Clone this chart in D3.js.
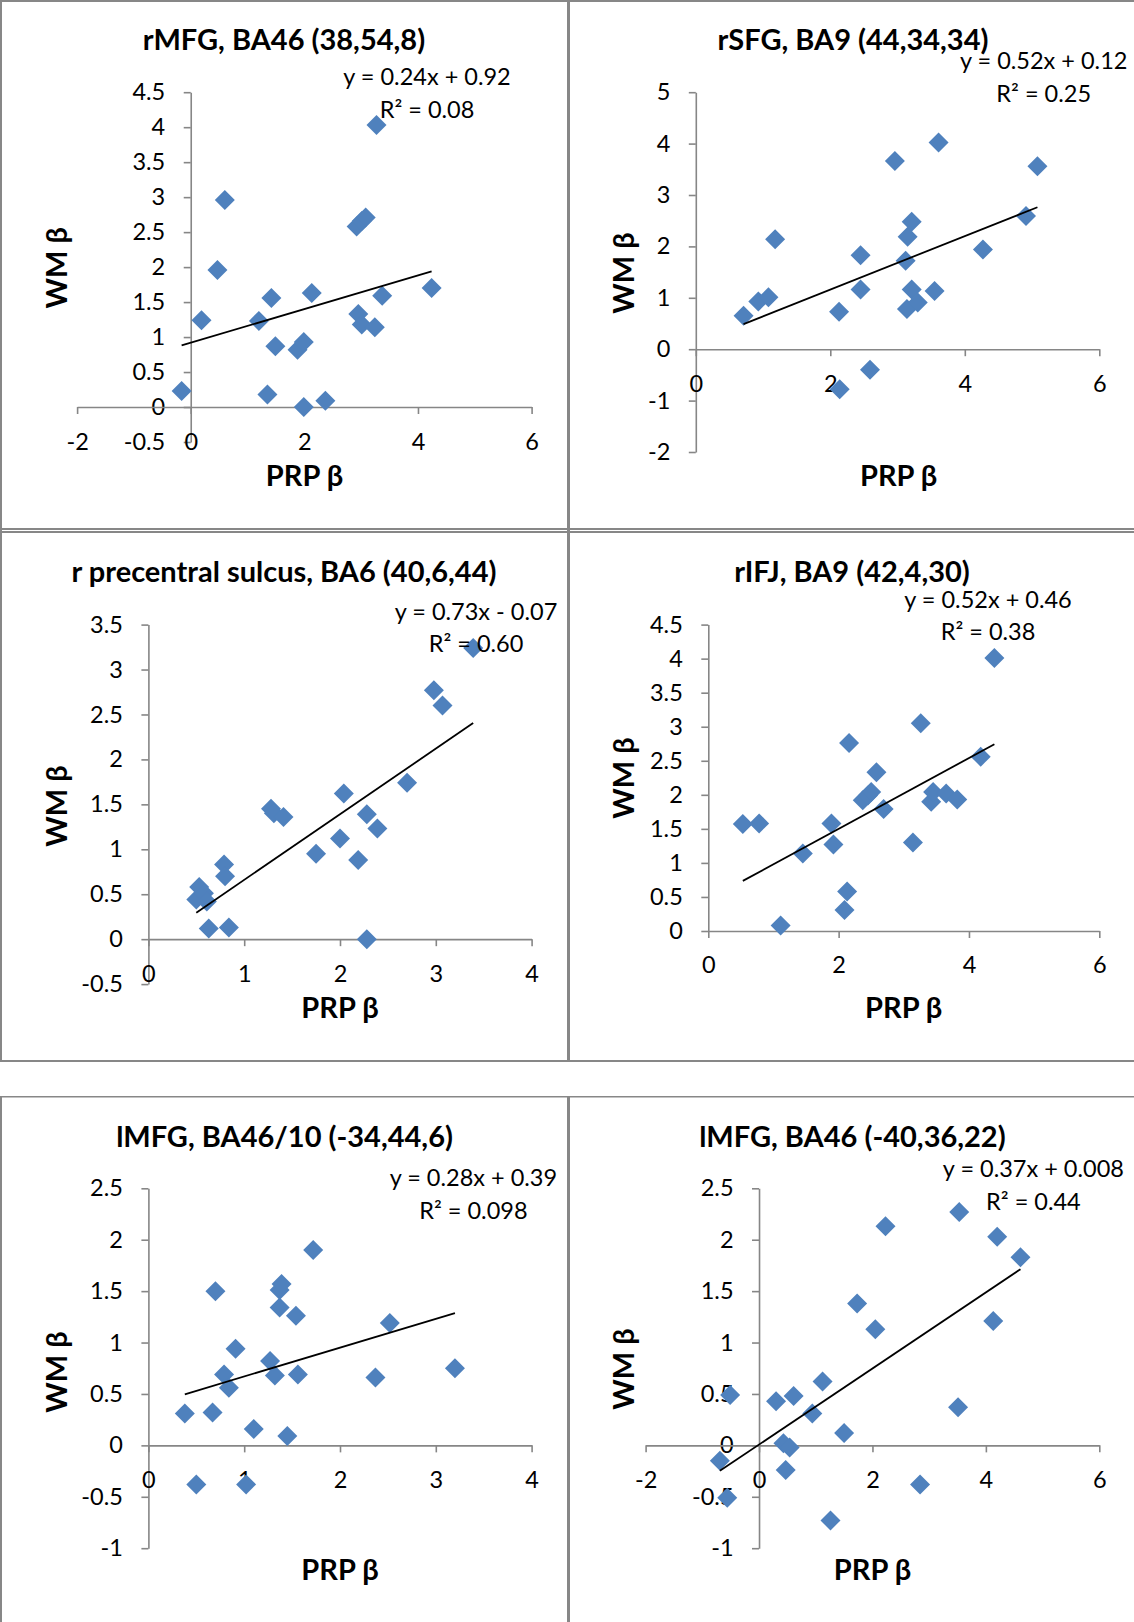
<!DOCTYPE html>
<html><head><meta charset="utf-8">
<script src="https://cdn.jsdelivr.net/npm/d3@7"></script>
<style>
body{margin:0;background:#fff}
svg{display:block}
text{font-family:Lato,'Open Sans',sans-serif;fill:#000}
</style>
</head><body>
<svg id="c" width="1134" height="1622"></svg>
<script>
// ---------- data ----------
const titles = ["rMFG, BA46 (38,54,8)", "rSFG, BA9 (44,34,34)", "r precentral sulcus, BA6 (40,6,44)",
                "rIFJ, BA9 (42,4,30)", "lMFG, BA46/10 (-34,44,6)", "lMFG, BA46 (-40,36,22)"];
const eqLabels = ["y = 0.24x + 0.92", "y = 0.52x + 0.12", "y = 0.73x - 0.07",
                  "y = 0.52x + 0.46", "y = 0.28x + 0.39", "y = 0.37x + 0.008"];
const r2Labels = ["R\u00B2 = 0.08", "R\u00B2 = 0.25", "R\u00B2 = 0.60", "R\u00B2 = 0.38", "R\u00B2 = 0.098", "R\u00B2 = 0.44"];
const slopes = [0.24, 0.52, 0.73, 0.52, 0.28, 0.37];
const intercepts = [0.92, 0.12, -0.07, 0.46, 0.39, 0.008];
const xAxisTitle = "PRP \u03B2";
const yAxisTitle = "WM \u03B2";

const p1X = [-0.16, 0.19, 0.47, 0.60, 1.20, 1.35, 1.42, 1.49, 1.88, 1.99, 1.99, 2.13, 2.37, 2.92, 3.01, 3.08, 2.95, 3.01, 3.24, 3.27, 3.37, 4.24];
const p1Y = [0.23, 1.24, 1.96, 2.96, 1.23, 0.18, 1.56, 0.87, 0.82, 0.93, 0.00, 1.63, 0.09, 2.58, 2.66, 2.71, 1.33, 1.18, 1.14, 4.03, 1.59, 1.70];

const p2X = [0.71, 0.93, 1.08, 1.18, 2.13, 2.14, 2.45, 2.45, 2.59, 2.96, 3.12, 3.14, 3.15, 3.21, 3.21, 3.30, 3.55, 3.61, 4.27, 4.91, 5.08];
const p2Y = [0.65, 0.93, 1.01, 2.14, 0.73, -0.78, 1.83, 1.16, -0.40, 3.66, 1.72, 0.78, 2.19, 2.48, 1.16, 0.91, 1.13, 4.02, 1.94, 2.59, 3.56];

const p3X = [0.50, 0.53, 0.58, 0.61, 0.63, 0.79, 0.80, 0.84, 1.28, 1.31, 1.41, 1.75, 2.00, 2.04, 2.19, 2.28, 2.28, 2.39, 2.70, 2.98, 3.07, 3.39];
const p3Y = [0.44, 0.58, 0.51, 0.42, 0.12, 0.83, 0.70, 0.13, 1.45, 1.40, 1.36, 0.95, 1.12, 1.62, 0.88, 1.39, 0.00, 1.23, 1.74, 2.77, 2.60, 3.24];

const p4X = [0.53, 0.78, 1.11, 1.45, 1.89, 1.92, 2.09, 2.13, 2.16, 2.37, 2.45, 2.50, 2.58, 2.69, 3.14, 3.26, 3.42, 3.45, 3.65, 3.82, 4.18, 4.39];
const p4Y = [1.57, 1.58, 0.08, 1.14, 1.58, 1.27, 0.31, 0.58, 2.76, 1.92, 1.99, 2.04, 2.33, 1.79, 1.30, 3.05, 1.90, 2.04, 2.02, 1.93, 2.56, 4.01];

const p5X = [0.38, 0.50, 0.67, 0.70, 0.79, 0.84, 0.91, 1.02, 1.10, 1.27, 1.32, 1.37, 1.37, 1.39, 1.45, 1.54, 1.56, 1.72, 2.37, 2.52, 3.20];
const p5Y = [0.31, -0.38, 0.32, 1.50, 0.69, 0.56, 0.94, -0.38, 0.16, 0.82, 0.68, 1.34, 1.51, 1.57, 0.09, 1.26, 0.69, 1.90, 0.66, 1.19, 0.75];

const p6X = [-0.69, -0.56, -0.51, 0.30, 0.43, 0.47, 0.54, 0.61, 0.94, 1.12, 1.26, 1.50, 1.73, 2.05, 2.23, 2.84, 3.51, 3.53, 4.13, 4.20, 4.61];
const p6Y = [-0.15, -0.51, 0.49, 0.43, 0.02, -0.24, -0.02, 0.48, 0.31, 0.62, -0.73, 0.12, 1.38, 1.13, 2.13, -0.38, 0.37, 2.27, 1.21, 2.03, 1.83];

const xTicks1 = [-2, 0, 2, 4, 6];
const yTicks1 = [-0.5, 0, 0.5, 1, 1.5, 2, 2.5, 3, 3.5, 4, 4.5];
const xTicks2 = [0, 2, 4, 6];
const yTicks2 = [-2, -1, 0, 1, 2, 3, 4, 5];
const xTicks3 = [0, 1, 2, 3, 4];
const yTicks3 = [-0.5, 0, 0.5, 1, 1.5, 2, 2.5, 3, 3.5];
const xTicks4 = [0, 2, 4, 6];
const yTicks4 = [0, 0.5, 1, 1.5, 2, 2.5, 3, 3.5, 4, 4.5];
const xTicks5 = [0, 1, 2, 3, 4];
const yTicks5 = [-1, -0.5, 0, 0.5, 1, 1.5, 2, 2.5];
const xTicks6 = [-2, 0, 2, 4, 6];
const yTicks6 = [-1, -0.5, 0, 0.5, 1, 1.5, 2, 2.5];

const seriesX = [p1X, p2X, p3X, p4X, p5X, p6X];
const seriesY = [p1Y, p2Y, p3Y, p4Y, p5Y, p6Y];
const xTicksAll = [xTicks1, xTicks2, xTicks3, xTicks4, xTicks5, xTicks6];
const yTicksAll = [yTicks1, yTicks2, yTicks3, yTicks4, yTicks5, yTicks6];

// ---------- layout (pixel geometry) ----------
const layout = [
  {xr:[77.1, 531.6],  yr:[442.0, 92.2],   title:[284, 50],    eq:[427, 84.5, 117.6],   yt:[67, 267.7],   xt:[304.5, 486]},
  {xr:[695.8, 1099.3],yr:[452.0, 92.2],   title:[853, 50],    eq:[1043.7, 69.3, 102],  yt:[634, 273],     xt:[898.6, 486]},
  {xr:[148.4, 531.6], yr:[984.1, 624.6],  title:[284, 582.4], eq:[476, 619.5, 652.3],  yt:[67, 806],      xt:[340, 1018]},
  {xr:[708.3, 1099.3],yr:[931.0, 624.6],  title:[852, 582.4], eq:[988, 607.7, 639.8],  yt:[634, 778],     xt:[903.7, 1018]},
  {xr:[148.4, 531.6], yr:[1548.2, 1188.3],title:[284.6,1146.7],eq:[473.4, 1186, 1218.8],yt:[67, 1372],    xt:[340, 1579.7]},
  {xr:[645.6, 1099.3],yr:[1548.2, 1188.3],title:[852.5,1146.7],eq:[1033.4,1176.5,1209.8],yt:[634, 1369],  xt:[872.5, 1579.7]}
];

const svg = d3.select("#c");
const GRAY = "#878787";
const AXIS = "#868686";
const BLUE = "#4F81BD";
const TICK_FS = 23.5, EQ_FS = 23.5, TITLE_FS = 29;

// panel borders
const borders = svg.append("g").attr("fill", GRAY);
[[0,0,1134,2],[0,0,2,1062],[0,1096,2,526],[567,0,3,1062],[567,1096,3,526],
 [0,528,1134,2],[0,531,1134,2],[0,1060,1134,2],[0,1096,1134,1.5]].forEach(b=>{
  borders.append("rect").attr("x",b[0]).attr("y",b[1]).attr("width",b[2]).attr("height",b[3]);
});

const diamond = "M0,-10L10,0L0,10L-10,0Z";

layout.forEach((L, i) => {
  const xt = xTicksAll[i], yt = yTicksAll[i];
  const x = d3.scaleLinear().domain([xt[0], xt[xt.length-1]]).range(L.xr);
  const y = d3.scaleLinear().domain([yt[0], yt[yt.length-1]]).range(L.yr);
  const g = svg.append("g");

  // y axis at x=0
  const yAx = g.append("g").attr("transform", `translate(${x(0)},0)`)
    .call(d3.axisLeft(y).tickValues(yt).tickSize(7).tickSizeOuter(0).tickPadding(18.5).tickFormat(d => String(d)));
  // x axis at y=0
  const xAx = g.append("g").attr("transform", `translate(0,${y(0)})`)
    .call(d3.axisBottom(x).tickValues(xt).tickSize(7).tickSizeOuter(0).tickPadding(18.8).tickFormat(d => String(d)));
  [yAx, xAx].forEach(a => {
    a.attr("font-family", null).attr("font-size", null);
    a.select(".domain").attr("stroke", AXIS).attr("stroke-width", 1.6);
    a.selectAll(".tick line").attr("stroke", AXIS).attr("stroke-width", 1.6);
    a.selectAll(".tick text").style("font-size", TICK_FS + "px").attr("fill", "#000");
  });
  xAx.selectAll(".tick text").attr("dy", "0.71em");

  // points
  const xs = seriesX[i], ys = seriesY[i];
  g.append("g").selectAll("path").data(xs.map((v, k) => [v, ys[k]])).join("path")
    .attr("d", diamond).attr("fill", BLUE)
    .attr("transform", d => `translate(${x(d[0])},${y(d[1])})`);

  // trendline
  const x0 = d3.min(xs), x1 = d3.max(xs);
  g.append("line")
    .attr("x1", x(x0)).attr("y1", y(slopes[i]*x0 + intercepts[i]))
    .attr("x2", x(x1)).attr("y2", y(slopes[i]*x1 + intercepts[i]))
    .attr("stroke", "#000").attr("stroke-width", 1.8);

  // texts
  g.append("text").attr("x", L.title[0]).attr("y", L.title[1]).attr("text-anchor", "middle")
    .style("font-size", TITLE_FS + "px").style("font-weight", "bold").text(titles[i]);
  g.append("text").attr("x", L.eq[0]).attr("y", L.eq[1]).attr("text-anchor", "middle")
    .style("font-size", EQ_FS + "px").text(eqLabels[i]);
  g.append("text").attr("x", L.eq[0]).attr("y", L.eq[2]).attr("text-anchor", "middle")
    .style("font-size", EQ_FS + "px").text(r2Labels[i]);
  g.append("text").attr("transform", `translate(${L.yt[0]},${L.yt[1]}) rotate(-90)`).attr("text-anchor", "middle")
    .style("font-size", TITLE_FS + "px").style("font-weight", "bold").text(yAxisTitle);
  g.append("text").attr("x", L.xt[0]).attr("y", L.xt[1]).attr("text-anchor", "middle")
    .style("font-size", TITLE_FS + "px").style("font-weight", "bold").text(xAxisTitle);
});
</script>
</body></html>
